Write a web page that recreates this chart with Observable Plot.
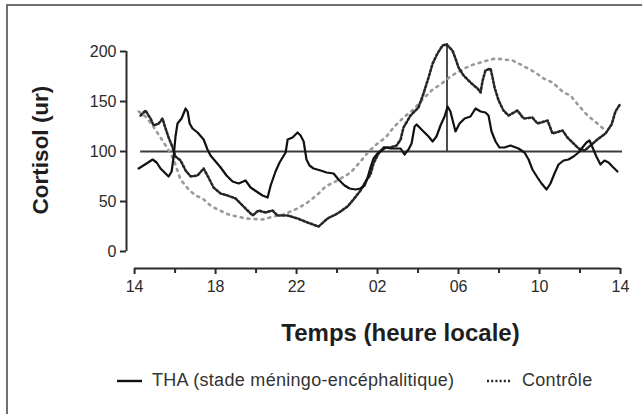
<!DOCTYPE html>
<html><head><meta charset="utf-8">
<script src="https://cdn.jsdelivr.net/npm/d3@7"></script>
<script src="https://cdn.jsdelivr.net/npm/@observablehq/plot@0.6"></script>
<style>
body{margin:0;background:#fff;}
#wrap{position:relative;width:642px;height:414px;overflow:hidden;font-family:"Liberation Sans",Arial,sans-serif;background:#fff;}
#bt{position:absolute;left:6px;top:4px;right:0;height:2px;background:#707070;}
#bl{position:absolute;left:6px;top:4px;width:2px;bottom:0;background:#707070;}
#legend{position:absolute;top:360px;left:0;width:642px;height:54px;font-size:18px;letter-spacing:0.3px;color:#333;}
#legend .it{position:absolute;top:10px;display:flex;align-items:center;white-space:nowrap;}
#legend svg{margin-right:9px;}
</style></head><body>
<div id="wrap"><div id="chart"></div><div id="legend"></div><div id="bt"></div><div id="bl"></div></div>
<script>
// Time in hours after 14:00 (local time), values in ur
const thaHours = [0.20,0.59,0.89,1.09,1.28,1.48,1.68,1.83,1.93,2.02,2.12,2.32,2.52,2.62,2.72,2.86,3.11,3.41,3.60,3.75,4.00,4.25,4.54,4.84,5.14,5.48,5.73,6.02,6.32,6.57,6.72,6.96,7.16,7.46,7.56,7.80,8.05,8.20,8.35,8.49,8.64,8.84,9.19,9.48,9.83,10.07,10.37,10.62,10.91,11.16,11.36,11.51,11.65,11.80,12.00,12.20,12.40,12.64,13.14,13.33,13.53,13.68,13.83,13.93,14.22,14.52,14.72,14.91,15.11,15.31,15.46,15.60,15.75,15.85,16.05,16.30,16.59,16.84,17.09,17.33,17.48,17.63,17.83,18.02,18.27,18.57,18.96,19.26,19.46,19.65,19.90,20.10,20.35,20.54,20.74,20.94,21.19,21.43,21.68,21.93,22.12,22.32,22.47,22.62,22.81,23.01,23.21,23.41,23.60,23.85];
const thaValues = [83,88,92,89,83,79,75,80,95,115,128,133,143,140,128,123,119,112,102,96,90,84,76,70,68,71,64,60,56,54,66,80,89,99,112,114,119,116,110,92,86,83,81,79,78,72,66,63,62,63,66,74,84,93,98,101,104,103,103,97,102,108,125,127,121,115,110,115,126,135,145,140,128,120,128,133,135,143,140,139,136,120,110,104,104,106,103,99,92,82,74,68,62,68,78,87,91,92,95,99,104,109,111,104,95,87,91,89,85,80];

const ctrlHours = [0.30,0.54,0.69,0.79,0.94,1.19,1.38,1.48,1.68,1.88,2.02,2.27,2.52,2.77,3.11,3.41,3.65,3.90,4.25,4.59,4.99,5.23,5.58,5.83,6.12,6.47,6.81,7.06,7.56,8.05,8.54,9.09,9.53,10.02,10.52,10.81,11.16,11.41,11.65,11.80,12.05,12.30,12.64,12.94,13.14,13.28,13.63,14.02,14.27,14.52,14.72,14.96,15.21,15.41,15.70,15.85,16.00,16.25,16.59,16.94,17.09,17.19,17.33,17.58,17.68,17.78,17.98,18.22,18.47,18.91,19.21,19.65,19.90,20.40,20.64,21.14,21.38,21.68,21.93,22.22,22.52,22.86,23.26,23.56,23.75,24.00];
const ctrlValues = [136,141,136,133,126,128,133,126,114,104,95,91,81,75,76,83,74,64,58,56,53,48,41,36,41,39,41,36,36,33,29,25,33,38,45,52,61,70,77,88,98,104,104,106,112,124,136,144,158,174,188,198,206,207,201,193,184,176,169,163,159,171,181,183,174,164,151,141,136,141,133,134,128,131,118,121,114,108,103,101,106,112,118,127,140,148];

const fitHours = [0.20,0.54,0.89,1.28,1.63,1.93,2.27,2.67,3.01,3.36,3.75,4.10,4.64,5.48,6.32,6.86,7.36,8.05,8.54,9.04,9.43,10.02,10.67,11.16,11.56,12.00,12.40,12.79,13.28,13.78,14.27,14.72,15.11,15.60,16.10,16.59,17.43,17.83,18.67,19.16,19.80,20.20,20.64,21.19,21.53,21.93,22.37,22.86,23.26];
const fitValues = [140,135,126,114,103,92,72,62,56,53,46,42,37,33,32,35,37,43,49,57,65,71,79,90,100,108,114,124,134,142,153,162,167,175,181,186,191,193,191,186,179,173,169,159,156,146,136,128,121];

const xMajorTicks = [0,4,8,12,16,20,24];
const xMajorLabels = ["14","18","22","02","06","10","14"];
const xMinorTicks = [2,6,10,14,18,22];
const yTicks = [0,50,100,150,200];

const refLevel = [100];          // horizontal reference level
const refSpan = [0.3, 24.1];     // hours covered by the reference line
const peakHour = [15.43];        // vertical marker (control acrophase)
const peakRange = [100, 208];

const yTitle = "Cortisol (ur)";
const xTitle = "Temps (heure locale)";
const legendLabels = ["THA (stade méningo-encéphalitique)", "Contrôle"];

const tha = thaHours.map((h, i) => ({h, v: thaValues[i]}));
const ctrl = ctrlHours.map((h, i) => ({h, v: ctrlValues[i]}));
const fit = fitHours.map((h, i) => ({h, v: fitValues[i]}));

const ink = "#2a2a2a";

const chart = Plot.plot({
  width: 642,
  height: 360,
  marginLeft: 126,
  marginRight: 22,
  marginTop: 51,
  marginBottom: 92,
  x: {domain: [-0.4, 24]},
  y: {domain: [-17, 200]},
  style: {fontFamily: "'Liberation Sans', Arial, sans-serif", background: "transparent", color: ink},
  marks: [
    // axes
    Plot.ruleX([-0.4], {y1: yTicks[0], y2: yTicks[yTicks.length - 1], stroke: ink, strokeWidth: 2}),
    Plot.ruleY([-17], {x1: xMajorTicks[0], x2: xMajorTicks[xMajorTicks.length - 1], stroke: ink, strokeWidth: 2}),
    Plot.axisY(yTicks, {tickSize: 6, tickPadding: 4, fontSize: 16, label: null, strokeWidth: 2, color: ink}),
    Plot.axisX(xMajorTicks, {tickSize: 6, tickPadding: 6, fontSize: 16, label: null, strokeWidth: 2, color: ink,
      tickFormat: d => xMajorLabels[xMajorTicks.indexOf(d)]}),
    Plot.axisX(xMinorTicks, {tickSize: 5, label: null, strokeWidth: 2, color: ink, tickFormat: () => ""}),
    // reference lines
    Plot.ruleY(refLevel, {x1: refSpan[0], x2: refSpan[1], stroke: "#3a3a3a", strokeWidth: 2}),
    Plot.ruleX(peakHour, {y1: peakRange[0], y2: peakRange[1], stroke: "#3a3a3a", strokeWidth: 1.8}),
    // series
    Plot.line(fit, {x: "h", y: "v", stroke: "#9a9a9a", strokeWidth: 2.6, strokeDasharray: "2,5", curve: "linear"}),
    Plot.line(ctrl, {x: "h", y: "v", stroke: "#262626", strokeWidth: 2.6, strokeDasharray: "2,2.2", curve: "linear"}),
    Plot.line(tha, {x: "h", y: "v", stroke: "#111", strokeWidth: 2.2, curve: "linear"}),
    // titles
    Plot.text([yTitle], {text: d => d, frameAnchor: "left", dx: -86, dy: -10, rotate: -90, textAnchor: "middle", lineAnchor: "middle",
      fontSize: 22.5, fontWeight: "bold", fill: "#1e1e1e"}),
    Plot.text([xTitle], {text: d => d, frameAnchor: "bottom", dx: 27, dy: 65, textAnchor: "middle", lineAnchor: "middle",
      fontSize: 24, fontWeight: "bold", fill: "#1e1e1e"})
  ]
});
document.getElementById("chart").appendChild(chart);

// legend
const legend = document.getElementById("legend");
const items = [
  {label: legendLabels[0], left: 116, dash: null, stroke: "#111"},
  {label: legendLabels[1], left: 486, dash: "2,2.2", stroke: "#262626"}
];
for (const it of items) {
  const div = document.createElement("div");
  div.className = "it";
  div.style.left = it.left + "px";
  div.innerHTML = `<svg width="27" height="10"><line x1="1" y1="5" x2="26" y2="5" stroke="${it.stroke}" stroke-width="2.4" ${it.dash ? `stroke-dasharray="${it.dash}"` : ""}/></svg><span>${it.label}</span>`;
  legend.appendChild(div);
}
</script>
</body></html>
